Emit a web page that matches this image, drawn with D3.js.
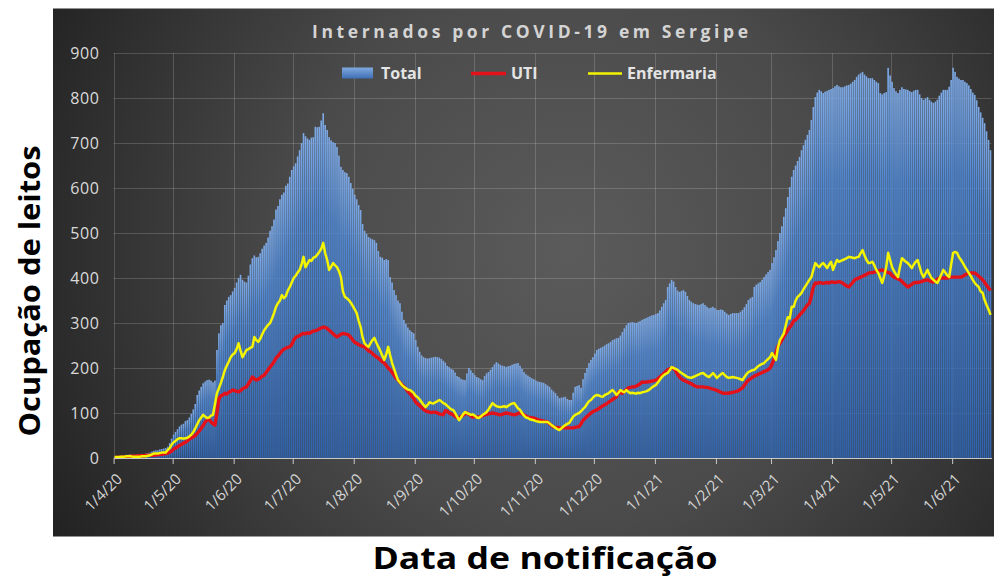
<!DOCTYPE html>
<html><head><meta charset="utf-8">
<script src="https://cdn.jsdelivr.net/npm/d3@7"></script>
<style>body{margin:0;background:#fff;} svg{display:block;}</style>
</head><body><svg id="c" width="994" height="578"></svg>
<script>
// ---------- DATA ----------
const firstDay = "1/4/20";      // first category (daily data)
const lastDayExclusive = "21/6/21";
const tickLabels = ["1/4/20","1/5/20","1/6/20","1/7/20","1/8/20","1/9/20","1/10/20","1/11/20","1/12/20","1/1/21","1/2/21","1/3/21","1/4/21","1/5/21","1/6/21"];
const yTicks = [0,100,200,300,400,500,600,700,800,900];
const seriesNames = ["Total","UTI","Enfermaria"];

const total = [
// Apr 2020
3,3,4,5,5,6,7,7,8,7, 7,7,8,8,9,9,10,11,12,14, 16,17,17,19,20,21,22,25,33,43,
// May
52,58,64,70,74,76,82,84,90,98, 108,120,140,150,158,166,170,173,174,172, 168,172,240,277,295,300,340,350,358,362, 370,
// Jun
378,390,400,407,396,392,390,405,430,444, 450,446,447,455,465,472,478,490,505,515, 530,552,560,575,585,590,605,610,625,640,
// Jul
648,655,670,684,700,722,715,710,707,712, 713,736,735,736,750,766,740,729,713,706, 702,700,691,672,647,640,635,633,625,611, 598,
// Aug
585,575,562,551,520,505,498,491,488,486, 484,478,460,447,445,440,442,440,402,390, 373,362,350,344,325,307,298,290,284,280, 277,
// Sep
262,247,236,228,224,222,221,222,223,224, 225,224,223,220,216,212,205,202,198,196, 190,182,180,176,174,173,188,200,195,189,
// Oct
184,180,178,175,173,182,188,191,196,202, 208,213,210,207,205,204,202,204,205,207, 209,210,211,205,198,191,186,183,180,177, 175,
// Nov
172,170,169,168,167,164,161,158,152,148, 144,138,133,134,135,136,131,129,129,145, 158,160,162,156,175,189,200,211,218,224,
// Dec
232,240,243,245,247,250,253,255,258,262, 264,266,267,272,280,288,295,300,301,302, 301,300,302,304,307,309,311,313,315,317, 318,
// Jan 2021
320,322,328,336,344,351,380,388,396,392, 380,372,369,371,373,369,360,351,347,344, 342,341,340,342,344,340,336,333,334,336, 333,
// Feb
329,329,330,329,325,321,318,320,322,322, 322,322,325,329,335,342,351,355,358,380, 385,388,391,396,402,408,413,418,
// Mar
433,446,462,482,500,515,536,555,580,602, 625,640,650,660,669,684,695,707,718,729, 751,780,802,812,818,815,811,814,816,818, 820,
// Apr
822,826,829,826,824,824,826,828,829,832, 836,840,847,852,855,858,852,848,844,844, 844,840,836,833,811,808,811,813,867,850,
// May
836,822,815,811,818,824,820,819,818,815, 813,816,818,818,808,800,796,799,802,796, 792,789,792,796,805,812,818,818,818,825, 840,
// Jun
867,858,847,843,840,840,836,833,828,820, 812,807,795,780,768,756,744,726,707,684
];

const uti = [
1,1,2,2,2,3,3,3,4,4, 4,4,5,5,5,5,6,6,6,6, 6,7,7,8,8,9,10,11,13,15,
20,22,25,28,30,33,35,38,42,45, 47,50,55,60,66,72,80,84,86,80, 76,73,100,132,138,140,144,142,146,148, 151,
150,148,147,150,154,156,158,165,172,180, 176,173,175,178,182,184,190,196,202,208, 214,222,226,232,238,242,244,246,247,252,
262,268,270,272,275,277,276,278,277,280, 282,283,284,287,289,291,290,288,284,280, 276,272,269,272,275,277,276,275,273,268, 262,
257,255,252,250,248,247,243,238,236,232, 228,225,222,218,214,211,206,200,196,190, 184,178,173,168,163,159,154,148,143,138, 132,
124,120,116,112,108,105,103,102,101,102, 102,100,98,97,96,105,104,100,98,96, 93,90,89,92,95,98,100,97,94,91,
92,91,91,92,94,96,97,98,99,100, 99,98,97,96,97,99,100,99,98,97, 96,97,99,100,98,96,93,91,90,89, 89,
87,85,84,83,82,81,80,76,72,69, 68,68,67,67,67,67,67,67,67,67, 68,69,70,76,84,88,92,96,100,103,
105,107,110,113,116,118,121,124,127,130, 133,136,147,145,144,148,152,156,157,158, 158,160,162,165,169,168,169,169,170,171, 172,
173,176,180,184,188,192,196,198,199,200, 194,186,180,176,173,171,169,167,165,162, 160,158,158,158,158,157,157,156,154,153, 152,
150,148,146,144,144,144,144,145,146,147, 148,150,153,156,162,168,173,176,179,182, 184,186,188,190,192,194,196,200,
208,220,235,248,255,262,270,277,284,291, 296,305,307,312,318,322,328,334,340,344, 360,380,389,388,390,389,388,389,390,389, 391,
391,390,391,392,391,388,385,382,380,385, 390,396,398,400,402,404,406,408,411,412, 412,413,414,415,417,418,416,414,412,411,
405,402,400,398,396,392,388,384,380,383, 386,389,390,390,391,392,394,395,396,394, 392,391,394,397,400,400,400,400,400,401, 402,
402,402,402,402,402,404,407,409,411,411, 411,411,408,404,400,396,390,384,378,372
];

const enfermaria = [
2,2,2,3,3,3,4,4,4,3, 3,3,3,3,4,4,4,5,6,8, 10,10,10,11,12,12,12,18,22,30,
35,38,42,44,44,43,44,45,48,52, 58,66,75,84,90,96,92,89,90,94, 96,120,144,155,167,180,195,205,214,224, 230,
233,242,255,238,224,232,240,242,245,247, 269,262,258,265,275,284,290,296,300,310, 322,336,344,350,362,355,360,372,380,390,
400,405,412,418,430,447,424,432,440,438, 445,447,452,458,465,478,455,440,418,425, 433,428,424,415,402,370,358,355,351,345, 338,
330,322,305,291,268,255,250,247,255,262, 267,256,247,238,228,218,230,247,228,211, 198,185,173,168,162,158,155,152,151,148, 144,
138,135,130,124,118,113,118,124,122,121, 124,126,129,126,122,120,116,112,108,107, 100,92,84,90,97,102,100,98,96,97,
94,90,89,92,96,99,102,108,115,122, 118,115,114,113,114,115,113,116,119,121, 122,116,110,107,100,94,90,89,86,85, 84,
82,81,80,80,80,80,80,77,73,70, 67,64,62,66,70,73,76,78,85,92, 96,98,100,104,109,113,120,126,129,134,
138,140,139,137,136,140,142,144,148,151, 146,140,145,151,148,146,151,147,144,145, 144,143,145,144,146,147,148,150,153,157, 160,
162,168,174,180,184,187,189,195,202,200, 198,196,192,189,186,183,180,179,178,180, 182,184,186,188,189,185,182,180,184,189, 184,
178,182,186,189,184,180,178,179,180,179, 178,177,175,173,180,186,191,193,195,196, 200,204,207,209,211,216,220,224,
233,226,218,245,262,269,277,295,313,310, 336,336,350,358,362,367,375,382,389,396, 402,418,433,428,424,430,433,428,422,430, 436,
418,430,440,436,438,440,442,444,447,446, 445,444,446,447,455,462,450,440,433,434, 436,428,418,411,400,389,405,424,456,440,
424,415,408,402,425,444,440,436,433,428, 422,430,436,440,425,410,402,410,418,408, 400,396,392,389,398,408,418,412,406,402, 430,
456,458,456,446,440,433,425,418,411,404, 396,389,384,380,370,367,351,340,330,318
];

// ---------- CHART ----------
const parse = d3.utcParse("%d/%m/%y");
const t0 = parse(firstDay), t1 = parse(lastDayExclusive);
const day = i => d3.utcDay.offset(t0, i);
const tickDates = tickLabels.map(parse);

const svg = d3.select("#c");
const x = d3.scaleUtc().domain([t0, t1]).range([113.6, 991.5]);
const y = d3.scaleLinear().domain([0, 900]).range([458, 53]);
const step = x(day(1)) - x(day(0));

const defs = svg.append("defs");
const bg = defs.append("radialGradient").attr("id","bg").attr("gradientUnits","userSpaceOnUse")
  .attr("cx",570).attr("cy",250).attr("r",620);
bg.append("stop").attr("offset",0).attr("stop-color","#5b5b5b");
bg.append("stop").attr("offset",0.45).attr("stop-color","#4a4a4a");
bg.append("stop").attr("offset",1).attr("stop-color","#1e1e1e");
const bgr = defs.append("linearGradient").attr("id","barg").attr("x1",0).attr("y1",0).attr("x2",0).attr("y2",1);
bgr.append("stop").attr("offset",0).attr("stop-color","#7eaae6");
bgr.append("stop").attr("offset",0.25).attr("stop-color","#4f86d0");
bgr.append("stop").attr("offset",1).attr("stop-color","#2f62aa");
const lg = defs.append("linearGradient").attr("id","legg").attr("x1",0).attr("y1",0).attr("x2",0).attr("y2",1);
lg.append("stop").attr("offset",0).attr("stop-color","#7fa9e0");
lg.append("stop").attr("offset",1).attr("stop-color","#3f70b5");

// panel
svg.append("rect").attr("x",53).attr("y",8.5).attr("width",941).attr("height",528).attr("fill","url(#bg)");

// gridlines
const grid = svg.append("g").attr("stroke","rgba(255,255,255,0.17)").attr("stroke-width",1);
yTicks.filter(v=>v>0).forEach(v => grid.append("line").attr("x1",113.6).attr("x2",991.5)
  .attr("y1",Math.round(y(v))+0.5).attr("y2",Math.round(y(v))+0.5));
tickDates.forEach(d => grid.append("line").attr("x1",Math.round(x(d))+0.5).attr("x2",Math.round(x(d))+0.5)
  .attr("y1",y(900)).attr("y2",y(0)));

// bars
svg.append("g").selectAll("rect").data(total).join("rect")
  .attr("x",(d,i)=>x(day(i))+0.15)
  .attr("width",step-0.35)
  .attr("y",d=>y(d))
  .attr("height",d=>y(0)-y(d))
  .attr("fill","url(#barg)");

// lines
const line = d3.line().x((d,i)=>x(day(i))+step/2).y(d=>y(d)).curve(d3.curveLinear);
svg.append("path").datum(uti).attr("d",line).attr("fill","none")
  .attr("stroke","#e3121a").attr("stroke-width",3.4).attr("stroke-linejoin","round");
svg.append("path").datum(enfermaria).attr("d",line).attr("fill","none")
  .attr("stroke","#f4f400").attr("stroke-width",2.5).attr("stroke-linejoin","round");

// x axis
const xAxis = svg.append("g").attr("transform",`translate(0,${y(0)})`)
  .call(d3.axisBottom(x).tickValues(tickDates).tickFormat((d,i)=>tickLabels[i]).tickSize(6).tickSizeOuter(0));
xAxis.select(".domain").attr("stroke","#c8c8c8").attr("stroke-width",1.2);
xAxis.selectAll(".tick line").attr("stroke","#c8c8c8");
xAxis.selectAll(".tick text")
  .attr("fill","#d6d6d6").attr("font-family","'Open Sans', sans-serif").attr("font-size",15)
  .attr("text-anchor","end").attr("dy",0).attr("y",0)
  .attr("transform","translate(9,22) rotate(-45)");

// y axis
const yAxis = svg.append("g").attr("transform","translate(113.6,0)")
  .call(d3.axisLeft(y).tickValues(yTicks).tickSize(0).tickPadding(14));
yAxis.select(".domain").remove();
yAxis.selectAll(".tick text").attr("fill","#dadada").attr("font-family","'Open Sans', sans-serif")
  .attr("font-size",16).attr("letter-spacing","0.6px");

// title
svg.append("text").attr("x",530).attr("y",38).attr("text-anchor","middle")
  .attr("font-family","'Open Sans', sans-serif").attr("font-weight","bold").attr("font-size",17.5)
  .attr("fill","#d4d4d4").attr("textLength",436).attr("lengthAdjust","spacing")
  .text("Internados por COVID-19 em Sergipe");

// legend
const leg = svg.append("g").attr("font-family","'Open Sans', sans-serif").attr("font-weight","bold")
  .attr("font-size",16).attr("fill","#e4e4e4");
leg.append("rect").attr("x",342).attr("y",67.5).attr("width",31).attr("height",11).attr("fill","url(#legg)");
leg.append("text").attr("x",381).attr("y",79).text(seriesNames[0]);
leg.append("line").attr("x1",471).attr("x2",506).attr("y1",73.5).attr("y2",73.5).attr("stroke","#e3121a").attr("stroke-width",3.4);
leg.append("text").attr("x",511).attr("y",79).text(seriesNames[1]);
leg.append("line").attr("x1",588).attr("x2",622).attr("y1",73.5).attr("y2",73.5).attr("stroke","#f4f400").attr("stroke-width",2.4);
leg.append("text").attr("x",627).attr("y",79).text(seriesNames[2]);

// axis titles
svg.append("text").attr("transform","translate(40,291) rotate(-90)").attr("text-anchor","middle")
  .attr("font-family","'Open Sans', sans-serif").attr("font-weight","bold").attr("font-size",28)
  .attr("fill","#000").attr("textLength",291).attr("lengthAdjust","spacingAndGlyphs")
  .text("Ocupação de leitos");
svg.append("text").attr("x",545).attr("y",569).attr("text-anchor","middle")
  .attr("font-family","'Open Sans', sans-serif").attr("font-weight","bold").attr("font-size",31)
  .attr("fill","#000").attr("textLength",345).attr("lengthAdjust","spacingAndGlyphs")
  .text("Data de notificação");
</script></body></html>
